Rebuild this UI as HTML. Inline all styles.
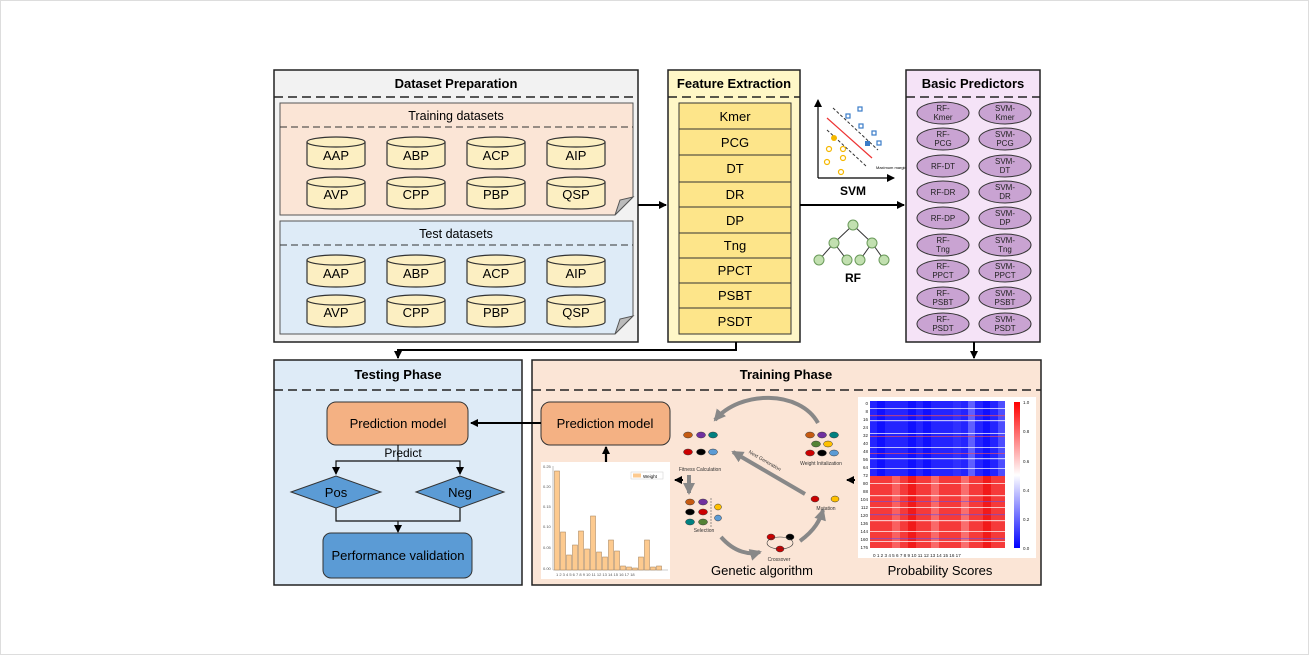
<!DOCTYPE html>
<html><head><meta charset="utf-8"><style>
html,body{margin:0;padding:0;background:#fff;}
svg{display:block;font-family:"Liberation Sans",Arial,sans-serif;}
</style></head><body>
<svg width="1309" height="655" viewBox="0 0 1309 655" xmlns="http://www.w3.org/2000/svg">
<defs>
<marker id="ar" markerWidth="8" markerHeight="8" refX="7" refY="4" orient="auto" markerUnits="userSpaceOnUse"><path d="M0,0 L8,4 L0,8 z" fill="#000"/></marker>
<marker id="ag" markerWidth="12" markerHeight="12" refX="10" refY="6" orient="auto" markerUnits="userSpaceOnUse"><path d="M0,0 L12,6 L0,12 z" fill="#888"/></marker>
<linearGradient id="cb" x1="0" y1="0" x2="0" y2="1"><stop offset="0" stop-color="#ff0000"/><stop offset="0.5" stop-color="#ffffff"/><stop offset="1" stop-color="#0000ff"/></linearGradient>
<g id="cyl"><path d="M0,5 v22 a29,5 0 0 0 58,0 v-22" fill="#fcefc2" stroke="#333" stroke-width="1.2"/><ellipse cx="29" cy="5" rx="29" ry="5" fill="#fcefc2" stroke="#333" stroke-width="1.2"/></g>
</defs>
<rect x="0.5" y="0.5" width="1308" height="654" fill="#fff" stroke="#ddd"/>

<!-- Dataset Preparation -->
<rect x="274" y="70" width="364" height="272" fill="#f2f2f2" stroke="#222" stroke-width="1.5"/>
<text x="456" y="88" font-size="13" font-weight="bold" text-anchor="middle">Dataset Preparation</text>
<line x1="274" y1="97" x2="638" y2="97" stroke="#222" stroke-width="1.5" stroke-dasharray="9,5"/>
<path d="M280,103 H633 V197 L615,215 H280 Z" fill="#fbe5d6" stroke="#555"/>
<path d="M633,197 L615,215 L620,200 Z" fill="#bbb" stroke="#555"/>
<text x="456" y="120" font-size="12.5" text-anchor="middle">Training datasets</text>
<line x1="280" y1="127" x2="633" y2="127" stroke="#333" stroke-dasharray="7,4"/>
<path d="M280,221 H633 V316 L615,334 H280 Z" fill="#deebf7" stroke="#555"/>
<path d="M633,316 L615,334 L620,319 Z" fill="#bbb" stroke="#555"/>
<text x="456" y="238" font-size="12.5" text-anchor="middle">Test datasets</text>
<line x1="280" y1="245" x2="633" y2="245" stroke="#333" stroke-dasharray="7,4"/>
<g font-size="13" text-anchor="middle">
<use href="#cyl" x="307" y="137"/><text x="336" y="160">AAP</text>
<use href="#cyl" x="387" y="137"/><text x="416" y="160">ABP</text>
<use href="#cyl" x="467" y="137"/><text x="496" y="160">ACP</text>
<use href="#cyl" x="547" y="137"/><text x="576" y="160">AIP</text>
<use href="#cyl" x="307" y="177"/><text x="336" y="199">AVP</text>
<use href="#cyl" x="387" y="177"/><text x="416" y="199">CPP</text>
<use href="#cyl" x="467" y="177"/><text x="496" y="199">PBP</text>
<use href="#cyl" x="547" y="177"/><text x="576" y="199">QSP</text>
<use href="#cyl" x="307" y="255"/><text x="336" y="278">AAP</text>
<use href="#cyl" x="387" y="255"/><text x="416" y="278">ABP</text>
<use href="#cyl" x="467" y="255"/><text x="496" y="278">ACP</text>
<use href="#cyl" x="547" y="255"/><text x="576" y="278">AIP</text>
<use href="#cyl" x="307" y="295"/><text x="336" y="317">AVP</text>
<use href="#cyl" x="387" y="295"/><text x="416" y="317">CPP</text>
<use href="#cyl" x="467" y="295"/><text x="496" y="317">PBP</text>
<use href="#cyl" x="547" y="295"/><text x="576" y="317">QSP</text>
</g>

<!-- Feature Extraction -->
<rect x="668" y="70" width="132" height="272" fill="#fff7c7" stroke="#222" stroke-width="1.5"/>
<text x="734" y="88" font-size="13" font-weight="bold" text-anchor="middle">Feature Extraction</text>
<line x1="668" y1="97" x2="800" y2="97" stroke="#222" stroke-width="1.5" stroke-dasharray="9,5"/>
<g fill="#fde58a" stroke="#333">
<rect x="679" y="103" width="112" height="26"/><rect x="679" y="129" width="112" height="26"/><rect x="679" y="155" width="112" height="27"/><rect x="679" y="182" width="112" height="25"/><rect x="679" y="207" width="112" height="26"/><rect x="679" y="233" width="112" height="25"/><rect x="679" y="258" width="112" height="25"/><rect x="679" y="283" width="112" height="25"/><rect x="679" y="308" width="112" height="26"/>
</g>
<g font-size="13" text-anchor="middle">
<text x="735" y="121">Kmer</text><text x="735" y="147">PCG</text><text x="735" y="173">DT</text><text x="735" y="199">DR</text><text x="735" y="225">DP</text><text x="735" y="250">Tng</text><text x="735" y="275">PPCT</text><text x="735" y="300">PSBT</text><text x="735" y="326">PSDT</text>
</g>

<!-- SVM icon -->
<line x1="818" y1="178" x2="818" y2="100" stroke="#000" stroke-width="1.2" marker-end="url(#ar)"/>
<line x1="818" y1="178" x2="894" y2="178" stroke="#000" stroke-width="1.2" marker-end="url(#ar)"/>
<line x1="827" y1="118" x2="872" y2="158" stroke="#e33" stroke-width="1.2"/>
<line x1="833" y1="108" x2="878" y2="150" stroke="#333" stroke-dasharray="3,2"/>
<line x1="827" y1="130" x2="866" y2="166" stroke="#333" stroke-dasharray="3,2"/>
<g fill="none" stroke="#3a7cc8" stroke-width="1.2"><rect x="846" y="114" width="4" height="4"/><rect x="858" y="107" width="4" height="4"/><rect x="859" y="124" width="4" height="4"/><rect x="872" y="131" width="4" height="4"/><rect x="877" y="141" width="4" height="4"/></g>
<rect x="865" y="141" width="5" height="5" fill="#3a7cc8"/>
<g fill="none" stroke="#f5b800" stroke-width="1.2"><circle cx="829" cy="149" r="2.5"/><circle cx="843" cy="149" r="2.5"/><circle cx="843" cy="158" r="2.5"/><circle cx="827" cy="162" r="2.5"/><circle cx="841" cy="172" r="2.5"/></g>
<circle cx="834" cy="138" r="3" fill="#f5b800"/>
<text x="876" y="169" font-size="4">Maximum margin</text>
<text x="853" y="195" font-size="12" font-weight="bold" text-anchor="middle">SVM</text>
<!-- RF icon -->
<g stroke="#333" stroke-width="1"><line x1="853" y1="225" x2="834" y2="243"/><line x1="853" y1="225" x2="872" y2="243"/><line x1="834" y1="243" x2="819" y2="260"/><line x1="834" y1="243" x2="847" y2="260"/><line x1="872" y1="243" x2="860" y2="260"/><line x1="872" y1="243" x2="884" y2="260"/></g>
<g fill="#c2e0b0" stroke="#6a9a5a"><circle cx="853" cy="225" r="5"/><circle cx="834" cy="243" r="5"/><circle cx="872" cy="243" r="5"/><circle cx="819" cy="260" r="5"/><circle cx="847" cy="260" r="5"/><circle cx="860" cy="260" r="5"/><circle cx="884" cy="260" r="5"/></g>
<text x="853" y="282" font-size="12" font-weight="bold" text-anchor="middle">RF</text>

<!-- Basic Predictors -->
<rect x="906" y="70" width="134" height="272" fill="#f5e3f7" stroke="#222" stroke-width="1.5"/>
<text x="973" y="88" font-size="13" font-weight="bold" text-anchor="middle">Basic Predictors</text>
<line x1="906" y1="97" x2="1040" y2="97" stroke="#222" stroke-width="1.5" stroke-dasharray="9,5"/>
<g fill="#c9a3d2" stroke="#333">
<ellipse cx="943" cy="113" rx="26" ry="11"/><ellipse cx="1005" cy="113" rx="26" ry="11"/>
<ellipse cx="943" cy="139" rx="26" ry="11"/><ellipse cx="1005" cy="139" rx="26" ry="11"/>
<ellipse cx="943" cy="166" rx="26" ry="11"/><ellipse cx="1005" cy="166" rx="26" ry="11"/>
<ellipse cx="943" cy="192" rx="26" ry="11"/><ellipse cx="1005" cy="192" rx="26" ry="11"/>
<ellipse cx="943" cy="218" rx="26" ry="11"/><ellipse cx="1005" cy="218" rx="26" ry="11"/>
<ellipse cx="943" cy="245" rx="26" ry="11"/><ellipse cx="1005" cy="245" rx="26" ry="11"/>
<ellipse cx="943" cy="271" rx="26" ry="11"/><ellipse cx="1005" cy="271" rx="26" ry="11"/>
<ellipse cx="943" cy="298" rx="26" ry="11"/><ellipse cx="1005" cy="298" rx="26" ry="11"/>
<ellipse cx="943" cy="324" rx="26" ry="11"/><ellipse cx="1005" cy="324" rx="26" ry="11"/>
</g>
<g font-size="8" text-anchor="middle" fill="#222">
<text x="943" y="111">RF-</text><text x="943" y="120">Kmer</text><text x="1005" y="111">SVM-</text><text x="1005" y="120">Kmer</text>
<text x="943" y="137">RF-</text><text x="943" y="146">PCG</text><text x="1005" y="137">SVM-</text><text x="1005" y="146">PCG</text>
<text x="943" y="169">RF-DT</text><text x="1005" y="164">SVM-</text><text x="1005" y="173">DT</text>
<text x="943" y="195">RF-DR</text><text x="1005" y="190">SVM-</text><text x="1005" y="199">DR</text>
<text x="943" y="221">RF-DP</text><text x="1005" y="216">SVM-</text><text x="1005" y="225">DP</text>
<text x="943" y="243">RF-</text><text x="943" y="252">Tng</text><text x="1005" y="243">SVM-</text><text x="1005" y="252">Tng</text>
<text x="943" y="269">RF-</text><text x="943" y="278">PPCT</text><text x="1005" y="269">SVM-</text><text x="1005" y="278">PPCT</text>
<text x="943" y="296">RF-</text><text x="943" y="305">PSBT</text><text x="1005" y="296">SVM-</text><text x="1005" y="305">PSBT</text>
<text x="943" y="322">RF-</text><text x="943" y="331">PSDT</text><text x="1005" y="322">SVM-</text><text x="1005" y="331">PSDT</text>
</g>

<!-- top arrows -->
<g stroke="#000" stroke-width="2" fill="none">
<line x1="638" y1="205" x2="666" y2="205" marker-end="url(#ar)"/>
<line x1="800" y1="205" x2="904" y2="205" marker-end="url(#ar)"/>
<polyline points="736,342 736,350 398,350 398,358" marker-end="url(#ar)"/>
<line x1="974" y1="342" x2="974" y2="358" marker-end="url(#ar)"/>
</g>

<!-- Testing Phase -->
<rect x="274" y="360" width="248" height="225" fill="#deebf7" stroke="#222" stroke-width="1.5"/>
<text x="398" y="379" font-size="13" font-weight="bold" text-anchor="middle">Testing Phase</text>
<line x1="274" y1="390" x2="522" y2="390" stroke="#222" stroke-width="1.5" stroke-dasharray="9,5"/>
<rect x="327" y="402" width="141" height="43" rx="9" fill="#f4b183" stroke="#333"/>
<text x="398" y="428" font-size="13" text-anchor="middle">Prediction model</text>
<text x="403" y="457" font-size="12" text-anchor="middle">Predict</text>
<g stroke="#111" stroke-width="1.2" fill="none">
<polyline points="398,445 398,461 336,461 336,474" marker-end="url(#ar)"/>
<polyline points="398,461 460,461 460,474" marker-end="url(#ar)"/>
<polyline points="336,508 336,521 460,521 460,508"/>
<line x1="398" y1="521" x2="398" y2="532" marker-end="url(#ar)"/>
</g>
<polygon points="291,492 336,476 381,492 336,508" fill="#5b9bd5" stroke="#333"/>
<polygon points="416,492 460,476 504,492 460,508" fill="#5b9bd5" stroke="#333"/>
<text x="336" y="497" font-size="13" text-anchor="middle">Pos</text>
<text x="460" y="497" font-size="13" text-anchor="middle">Neg</text>
<rect x="323" y="533" width="149" height="45" rx="8" fill="#5b9bd5" stroke="#333"/>
<text x="398" y="560" font-size="13" text-anchor="middle">Performance validation</text>

<!-- Training Phase -->
<rect x="532" y="360" width="509" height="225" fill="#fbe5d6" stroke="#222" stroke-width="1.5"/>
<text x="786" y="379" font-size="13" font-weight="bold" text-anchor="middle">Training Phase</text>
<line x1="532" y1="390" x2="1041" y2="390" stroke="#222" stroke-width="1.5" stroke-dasharray="9,5"/>
<rect x="541" y="402" width="129" height="43" rx="9" fill="#f4b183" stroke="#333"/>
<text x="605" y="428" font-size="13" text-anchor="middle">Prediction model</text>
<line x1="541" y1="423" x2="471" y2="423" stroke="#000" stroke-width="2" marker-end="url(#ar)"/>
<line x1="606" y1="462" x2="606" y2="447" stroke="#000" stroke-width="2.2" marker-end="url(#ar)"/>

<!-- bar chart -->
<rect x="541" y="462" width="129" height="117" fill="#fff"/>
<line x1="553" y1="466" x2="553" y2="570" stroke="#999" stroke-width="0.6"/>
<line x1="553" y1="570" x2="668" y2="570" stroke="#999" stroke-width="0.6"/>
<g font-size="4" fill="#555"><text x="543" y="468">0.25</text><text x="543" y="488">0.20</text><text x="543" y="508">0.15</text><text x="543" y="528">0.10</text><text x="543" y="549">0.05</text><text x="543" y="570">0.00</text></g>
<g fill="#fdca8f" stroke="#a07a50" stroke-width="0.5">
<rect x="554.5" y="471" width="5" height="99"/><rect x="560.5" y="532" width="5" height="38"/><rect x="566.5" y="555" width="5" height="15"/><rect x="572.5" y="545" width="5" height="25"/><rect x="578.5" y="531" width="5" height="39"/><rect x="584.5" y="549" width="5" height="21"/><rect x="590.5" y="516" width="5" height="54"/><rect x="596.5" y="552" width="5" height="18"/><rect x="602.5" y="557" width="5" height="13"/><rect x="608.5" y="540" width="5" height="30"/><rect x="614.5" y="551" width="5" height="19"/><rect x="620.5" y="566" width="5" height="4"/><rect x="626.5" y="567" width="5" height="3"/><rect x="632.5" y="568" width="5" height="2"/><rect x="638.5" y="557" width="5" height="13"/><rect x="644.5" y="540" width="5" height="30"/><rect x="650.5" y="567" width="5" height="3"/><rect x="656.5" y="566" width="5" height="4"/>
</g>
<rect x="631" y="472" width="32" height="7" fill="#fff" stroke="#ccc" stroke-width="0.5"/><rect x="633" y="473.5" width="8" height="4" fill="#fdca8f"/><text x="643" y="478" font-size="4.5">Weight</text>
<g font-size="4" fill="#555"><text x="556" y="576">1 2 3 4 5 6 7 8 9 10 11 12 13 14 15 16 17 18</text></g>

<!-- GA -->
<g fill="none" stroke="#888" stroke-width="4">
<path d="M818,423 C800,390 740,390 715,420" marker-end="url(#ag)"/>
<path d="M805,494 L733,452" marker-end="url(#ag)"/>
<path d="M689,475 L689,493" marker-end="url(#ag)"/>
<path d="M721,537 C735,553 750,555 760,552" marker-end="url(#ag)"/>
<path d="M800,541 C815,530 820,520 823,510" marker-end="url(#ag)"/>
</g>
<line x1="683" y1="480" x2="675" y2="480" stroke="#000" stroke-width="2" marker-end="url(#ar)"/>
<line x1="855" y1="480" x2="847" y2="480" stroke="#000" stroke-width="2" marker-end="url(#ar)"/>
<g stroke="#333" stroke-width="0.5">
<ellipse cx="688" cy="435" rx="4.5" ry="3" fill="#c55a11"/><ellipse cx="701" cy="435" rx="4.5" ry="3" fill="#7030a0"/><ellipse cx="713" cy="435" rx="4.5" ry="3" fill="#008080"/>
<ellipse cx="688" cy="452" rx="4.5" ry="3" fill="#c00"/><ellipse cx="701" cy="452" rx="4.5" ry="3" fill="#000"/><ellipse cx="713" cy="452" rx="4.5" ry="3" fill="#5b9bd5"/>
<ellipse cx="810" cy="435" rx="4.5" ry="3" fill="#c55a11"/><ellipse cx="822" cy="435" rx="4.5" ry="3" fill="#7030a0"/><ellipse cx="834" cy="435" rx="4.5" ry="3" fill="#008080"/>
<ellipse cx="816" cy="444" rx="4.5" ry="3" fill="#548235"/><ellipse cx="828" cy="444" rx="4.5" ry="3" fill="#ffc000"/>
<ellipse cx="810" cy="453" rx="4.5" ry="3" fill="#c00"/><ellipse cx="822" cy="453" rx="4.5" ry="3" fill="#000"/><ellipse cx="834" cy="453" rx="4.5" ry="3" fill="#5b9bd5"/>
<ellipse cx="690" cy="502" rx="4.5" ry="3" fill="#c55a11"/><ellipse cx="703" cy="502" rx="4.5" ry="3" fill="#7030a0"/>
<ellipse cx="690" cy="512" rx="4.5" ry="3" fill="#000"/><ellipse cx="703" cy="512" rx="4.5" ry="3" fill="#c00"/>
<ellipse cx="690" cy="522" rx="4.5" ry="3" fill="#008080"/><ellipse cx="703" cy="522" rx="4.5" ry="3" fill="#548235"/>
<ellipse cx="718" cy="507" rx="3.5" ry="3" fill="#ffc000"/><ellipse cx="718" cy="518" rx="3.5" ry="3" fill="#5b9bd5"/>
<ellipse cx="815" cy="499" rx="4" ry="3" fill="#c00"/><ellipse cx="835" cy="499" rx="4" ry="3" fill="#ffc000"/>
<ellipse cx="771" cy="537" rx="4" ry="3" fill="#c00"/><ellipse cx="790" cy="537" rx="4" ry="3" fill="#000"/><ellipse cx="780" cy="549" rx="4" ry="3" fill="#c00"/>
</g>
<line x1="711" y1="498" x2="711" y2="527" stroke="#555" stroke-width="0.6" stroke-dasharray="2,1"/>
<ellipse cx="780" cy="543" rx="13" ry="6" fill="none" stroke="#333" stroke-width="0.6"/>
<g font-size="5" fill="#333" text-anchor="middle">
<text x="700" y="471">Fitness Calculation</text><text x="821" y="465">Weight Initalization</text><text x="704" y="532">Selection</text><text x="826" y="510">Mutation</text><text x="779" y="561">Crossover</text>
<text x="764" y="462" transform="rotate(30 764 462)">Next Generation</text>
</g>
<text x="762" y="575" font-size="13" text-anchor="middle">Genetic algorithm</text>

<!-- heatmap -->
<rect x="858" y="397" width="178" height="161" fill="#fff"/>
<rect x="870" y="401" width="135" height="75" fill="#2424ff"/>
<rect x="870" y="476" width="135" height="72" fill="#f53a3a"/>
<g opacity="0.55">
<rect x="877" y="401" width="8" height="75" fill="#0000ff"/><rect x="908" y="401" width="8" height="75" fill="#0000ff"/><rect x="923" y="401" width="8" height="75" fill="#0000ff"/><rect x="953" y="401" width="8" height="75" fill="#3b3bff"/><rect x="968" y="401" width="7" height="75" fill="#9090ff"/><rect x="983" y="401" width="7" height="75" fill="#0000ff"/><rect x="998" y="401" width="7" height="75" fill="#7070ff"/>
<rect x="892" y="476" width="8" height="72" fill="#ff8080"/><rect x="931" y="476" width="8" height="72" fill="#ff9090"/><rect x="961" y="476" width="8" height="72" fill="#ff9a9a"/><rect x="983" y="476" width="8" height="72" fill="#ee0000"/><rect x="908" y="476" width="8" height="72" fill="#ee0000"/>
</g>
<g fill="#fff" opacity="0.7">
<rect x="870" y="408" width="135" height="1"/><rect x="870" y="420" width="135" height="1.2"/><rect x="870" y="433" width="135" height="1"/><rect x="870" y="447" width="135" height="1"/><rect x="870" y="458" width="135" height="1.2"/><rect x="870" y="468" width="135" height="1"/>
<rect x="870" y="483" width="135" height="1"/><rect x="870" y="495" width="135" height="1.2"/><rect x="870" y="507" width="135" height="1"/><rect x="870" y="520" width="135" height="1.2"/><rect x="870" y="531" width="135" height="1"/><rect x="870" y="541" width="135" height="1"/>
</g>
<g fill="#ff5050" opacity="0.6"><rect x="870" y="415" width="135" height="1.2"/><rect x="870" y="436" width="135" height="1"/><rect x="870" y="453" width="135" height="1"/></g>
<g fill="#5050ff" opacity="0.5"><rect x="870" y="501" width="135" height="1"/><rect x="870" y="514" width="135" height="1.2"/><rect x="870" y="538" width="135" height="1.2"/></g>
<rect x="1014" y="402" width="6" height="146" fill="url(#cb)"/>
<g font-size="4.5" fill="#222"><text x="1023" y="404">1.0</text><text x="1023" y="433">0.8</text><text x="1023" y="463">0.6</text><text x="1023" y="492">0.4</text><text x="1023" y="521">0.2</text><text x="1023" y="550">0.0</text></g>
<g font-size="4.5" fill="#222" text-anchor="end"><text x="868" y="405">0</text><text x="868" y="413">8</text><text x="868" y="421">16</text><text x="868" y="429">24</text><text x="868" y="437">32</text><text x="868" y="445">40</text><text x="868" y="453">48</text><text x="868" y="461">56</text><text x="868" y="469">64</text><text x="868" y="477">72</text><text x="868" y="485">80</text><text x="868" y="493">88</text><text x="868" y="501">104</text><text x="868" y="509">112</text><text x="868" y="517">120</text><text x="868" y="525">136</text><text x="868" y="533">144</text><text x="868" y="541">160</text><text x="868" y="549">176</text></g>
<text x="873" y="557" font-size="4.6" fill="#222">0  1  2  3  4  5  6  7  8  9 10 11 12 13 14 15 16 17</text>
<text x="940" y="575" font-size="13" text-anchor="middle">Probability Scores</text>
</svg>
</body></html>
